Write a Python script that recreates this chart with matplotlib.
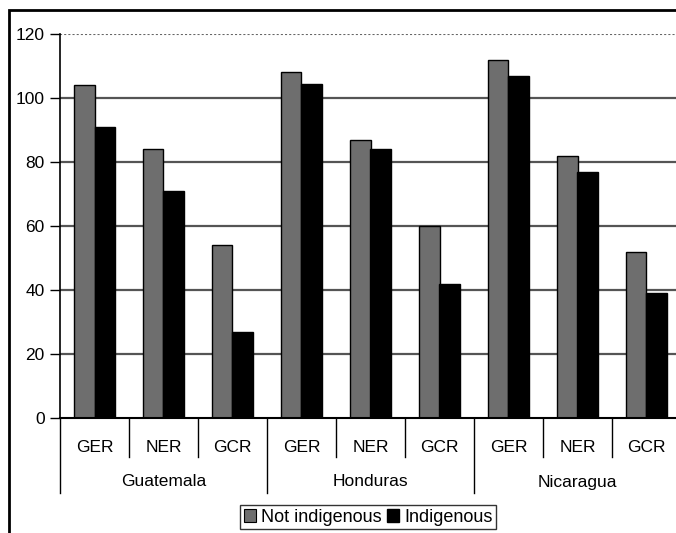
import matplotlib.pyplot as plt
from matplotlib.transforms import blended_transform_factory
from matplotlib.patches import Rectangle, Patch

plt.rcParams['font.family'] = ['Liberation Sans', 'DejaVu Sans']

countries = ['Guatemala', 'Honduras', 'Nicaragua']
indicators = ['GER', 'NER', 'GCR']
not_indigenous = [104, 84, 54, 108, 87, 60, 112, 82, 52]
indigenous = [91, 71, 27, 104.5, 84, 42, 107, 77, 39]
yticks = [0, 20, 40, 60, 80, 100, 120]

W, H = 676, 533
fig = plt.figure(figsize=(W / 100, H / 100), dpi=100)

# outer chart frame (right and bottom run off the page)
fig.patches.append(Rectangle((9 / W, -0.1), 1.2, (H - 10) / H + 0.1, transform=fig.transFigure,
                             fill=False, edgecolor='black', linewidth=2))

ax = fig.add_axes([60 / W, (H - 418) / H, 621 / W, 384 / H])
ax.set_xlim(0, 9)
ax.set_ylim(0, 120)

n = len(not_indigenous)
x = [i + 0.5 for i in range(n)]
w = 0.29
grey = '#6e6e6e'
ax.bar([p - w / 2 for p in x], not_indigenous, w, color=grey, edgecolor='black',
       linewidth=1, zorder=3, label='Not indigenous')
ax.bar([p + w / 2 for p in x], indigenous, w, color='black', edgecolor='black',
       linewidth=1, zorder=3, label='Indigenous')

# gridlines
for y in yticks[1:-1]:
    ax.axhline(y, color='#555555', linewidth=1.6, zorder=1)
ax.axhline(120, color='#666666', linewidth=1.5, linestyle=(0, (1, 1)), zorder=1)

for s in ['top', 'right', 'bottom']:
    ax.spines[s].set_visible(False)
ax.spines['left'].set_linewidth(1.2)
ax.axhline(0, color='black', linewidth=1.5, zorder=4, clip_on=False)

ax.set_yticks(yticks)
ax.tick_params(axis='y', length=7, width=1, labelsize=12.5, pad=4)
ax.set_xticks([])

# two-level category axis
tr = blended_transform_factory(ax.transData, ax.transAxes)
short_y = -39 / 384
long_y = -75 / 384
for i in range(n + 1):
    bottom = long_y if i % 3 == 0 else short_y
    ax.plot([i, i], [0, bottom], color='black', linewidth=1, transform=tr, clip_on=False)
for i, p in enumerate(x):
    ax.text(p, -29 / 384, indicators[i % 3], transform=tr, ha='center', va='center', fontsize=12.5)
for j, c in enumerate(countries):
    ax.text(3 * j + 1.5, -64 / 384, c, transform=tr, ha='center', va='center', fontsize=12.5)

handles = [Patch(facecolor=grey, edgecolor='black', linewidth=0.8),
           Patch(facecolor='black', edgecolor='black')]
leg = fig.legend(handles, ['Not indigenous', 'Indigenous'], loc='upper left',
                 bbox_to_anchor=(240 / W, (H - 505) / H), ncol=2, fontsize=13,
                 frameon=True, fancybox=False, edgecolor='black', handlelength=0.7,
                 handleheight=0.7, handletextpad=0.25, columnspacing=0.3, borderpad=0.2,
                 borderaxespad=0)
leg.get_frame().set_linewidth(1)

fig.savefig('out.png', dpi=100)
